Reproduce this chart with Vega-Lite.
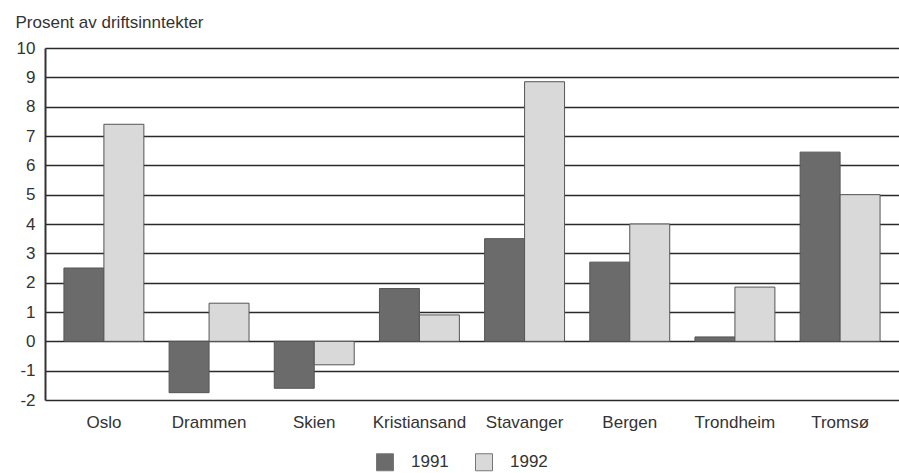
{
  "$schema": "https://vega.github.io/schema/vega-lite/v6.json",
  "autosize": {"type": "none"},
  "width": 854,
  "height": 352,
  "padding": {"left": 45, "top": 48, "right": 0, "bottom": 73},
  "background": "white",
  "config": {
    "font": "Liberation Sans Narrow, Liberation Sans, Arial, sans-serif",
    "view": {"stroke": null}
  },
  "data": {
    "values": [
      {"by": "Oslo", "year": "1991", "value": 2.5},
      {"by": "Oslo", "year": "1992", "value": 7.4},
      {"by": "Drammen", "year": "1991", "value": -1.75},
      {"by": "Drammen", "year": "1992", "value": 1.3},
      {"by": "Skien", "year": "1991", "value": -1.6},
      {"by": "Skien", "year": "1992", "value": -0.8},
      {"by": "Kristiansand", "year": "1991", "value": 1.8},
      {"by": "Kristiansand", "year": "1992", "value": 0.9},
      {"by": "Stavanger", "year": "1991", "value": 3.5},
      {"by": "Stavanger", "year": "1992", "value": 8.85},
      {"by": "Bergen", "year": "1991", "value": 2.7},
      {"by": "Bergen", "year": "1992", "value": 4.0},
      {"by": "Trondheim", "year": "1991", "value": 0.15},
      {"by": "Trondheim", "year": "1992", "value": 1.85},
      {"by": "Tromsø", "year": "1991", "value": 6.45},
      {"by": "Tromsø", "year": "1992", "value": 5.0}
    ]
  },
  "mark": {"type": "bar", "stroke": "#555555", "strokeWidth": 1},
  "encoding": {
    "x": {
      "field": "by",
      "type": "nominal",
      "sort": null,
      "scale": {"paddingInner": 0.24, "paddingOuter": 0.18},
      "axis": {
        "title": null,
        "labelAngle": 0,
        "labelFontSize": 17,
        "labelColor": "#333333",
        "labelPadding": 14,
        "ticks": false,
        "domain": false
      }
    },
    "xOffset": {"field": "year", "type": "nominal", "scale": {"paddingInner": 0, "paddingOuter": 0}},
    "y": {
      "field": "value",
      "type": "quantitative",
      "scale": {"domain": [-2, 10], "nice": false, "zero": false},
      "axis": {
        "values": [-2, -1, 0, 1, 2, 3, 4, 5, 6, 7, 8, 9, 10],
        "labelExpr": "toString(datum.value)",
        "title": "Prosent av driftsinntekter",
        "titleAngle": 0,
        "titleAlign": "left",
        "titleBaseline": "middle",
        "titleX": -30,
        "titleY": -26,
        "titleFontSize": 17,
        "titleFontWeight": "normal",
        "titleColor": "#333333",
        "labelFontSize": 17,
        "labelColor": "#333333",
        "labelPadding": 10,
        "ticks": false,
        "domain": true,
        "domainColor": "#333333",
        "domainWidth": 2,
        "grid": true,
        "gridColor": "#2a2a2a",
        "gridWidth": 1.5
      }
    },
    "color": {
      "field": "year",
      "type": "nominal",
      "scale": {"domain": ["1991", "1992"], "range": ["#6b6b6b", "#d9d9d9"]},
      "legend": {
        "title": null,
        "orient": "none",
        "direction": "horizontal",
        "legendX": 331,
        "legendY": 405,
        "symbolType": "square",
        "symbolSize": 289,
        "symbolStrokeColor": "#777777",
        "symbolStrokeWidth": 1,
        "labelFontSize": 17,
        "labelColor": "#333333",
        "labelOffset": 17,
        "columnPadding": 24
      }
    }
  }
}
